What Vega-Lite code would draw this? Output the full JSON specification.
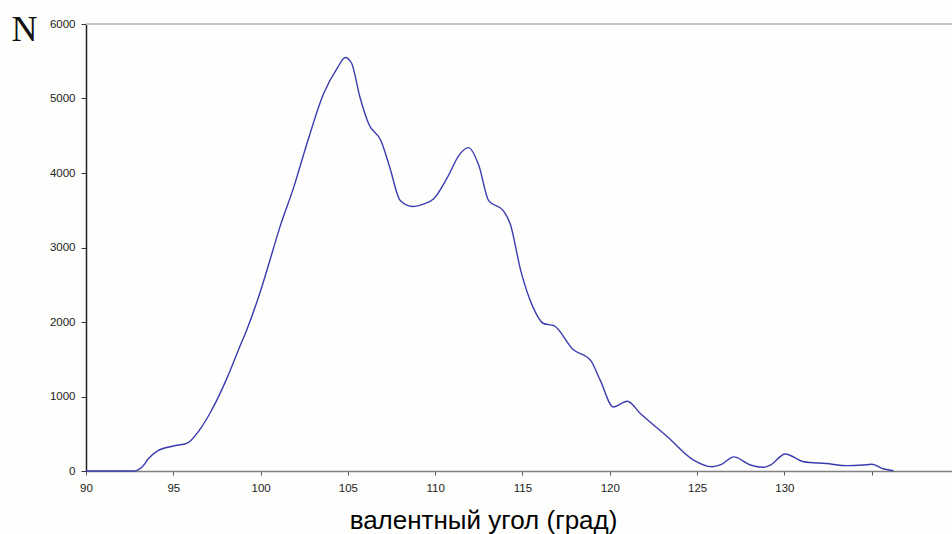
{
  "$schema": "https://vega.github.io/schema/vega-lite/v6.json",
  "width": 866,
  "height": 447,
  "autosize": {"type": "none"},
  "padding": {"left": 86, "top": 24, "right": 0, "bottom": 63},
  "background": "#fefefc",
  "config": {"view": {"stroke": null}},
  "data": {"values": [
    {"angle": 90, "n": 0},
    {"angle": 92.4, "n": 0},
    {"angle": 92.7, "n": 0},
    {"angle": 92.95, "n": 12},
    {"angle": 93.2, "n": 50},
    {"angle": 93.6, "n": 170},
    {"angle": 94.1, "n": 270},
    {"angle": 95.0, "n": 335},
    {"angle": 95.8, "n": 375},
    {"angle": 96.5, "n": 550},
    {"angle": 97.1, "n": 775},
    {"angle": 98.1, "n": 1260},
    {"angle": 98.8, "n": 1665},
    {"angle": 99.2, "n": 1890},
    {"angle": 100.0, "n": 2420},
    {"angle": 100.7, "n": 2960},
    {"angle": 101.1, "n": 3270},
    {"angle": 101.9, "n": 3810},
    {"angle": 102.7, "n": 4430},
    {"angle": 103.6, "n": 5060},
    {"angle": 104.4, "n": 5410},
    {"angle": 104.85, "n": 5550},
    {"angle": 105.2, "n": 5480},
    {"angle": 105.7, "n": 5010},
    {"angle": 106.2, "n": 4655},
    {"angle": 106.9, "n": 4430},
    {"angle": 107.4, "n": 4075},
    {"angle": 108.0, "n": 3630},
    {"angle": 108.7, "n": 3550},
    {"angle": 109.4, "n": 3590},
    {"angle": 109.9, "n": 3650},
    {"angle": 110.7, "n": 3940},
    {"angle": 111.4, "n": 4250},
    {"angle": 111.9, "n": 4340},
    {"angle": 112.5, "n": 4100},
    {"angle": 113.06, "n": 3630},
    {"angle": 113.9, "n": 3495},
    {"angle": 114.3, "n": 3315},
    {"angle": 114.9, "n": 2690},
    {"angle": 115.6, "n": 2200},
    {"angle": 116.2, "n": 1980},
    {"angle": 116.8, "n": 1950},
    {"angle": 117.9, "n": 1630},
    {"angle": 118.9, "n": 1485},
    {"angle": 119.45, "n": 1220},
    {"angle": 120.2, "n": 860},
    {"angle": 121.0, "n": 937},
    {"angle": 121.75, "n": 773},
    {"angle": 123.3, "n": 460},
    {"angle": 124.8, "n": 147},
    {"angle": 125.85, "n": 58},
    {"angle": 126.4, "n": 90},
    {"angle": 127.1, "n": 190},
    {"angle": 128.05, "n": 80},
    {"angle": 128.8, "n": 50},
    {"angle": 129.2, "n": 80},
    {"angle": 130.05, "n": 228},
    {"angle": 131.1, "n": 125},
    {"angle": 132.4, "n": 100},
    {"angle": 133.6, "n": 72},
    {"angle": 134.5, "n": 80},
    {"angle": 135.0, "n": 90},
    {"angle": 135.7, "n": 27},
    {"angle": 136.25, "n": 4}
  ]},
  "layer": [
    {
      "mark": {"type": "rule", "color": "#c4c4c4", "strokeWidth": 2},
      "encoding": {"y": {"datum": 6000, "type": "quantitative", "scale": {"domain": [0, 6000]}}}
    },
    {
      "mark": {"type": "line", "color": "#3b3bb0", "strokeWidth": 1.4, "interpolate": "monotone"},
      "encoding": {
        "x": {
          "field": "angle", "type": "quantitative",
          "scale": {"domain": [90, 139.6], "nice": false, "zero": false},
          "axis": {
            "values": [90, 95, 100, 105, 110, 115, 120, 125, 130, 135],
            "format": "d",
            "labelExpr": "datum.value == 135 ? '' : datum.label",
            "labelFlush": false, "labelOverlap": false,
            "grid": false,
            "domainColor": "#808080", "domainWidth": 1.5,
            "tickColor": "#555555", "tickSize": 4,
            "labelFont": "Liberation Sans", "labelFontSize": 11.5, "labelColor": "#222222", "labelPadding": 7,
            "title": "валентный угол (град)",
            "titleFont": "Liberation Sans", "titleFontSize": 26, "titleFontWeight": "normal", "titleColor": "#000000",
            "titleX": 397, "titleY": 57, "titleAlign": "center", "titleBaseline": "alphabetic"
          }
        },
        "y": {
          "field": "n", "type": "quantitative",
          "scale": {"domain": [0, 6000], "nice": false},
          "axis": {
            "values": [0, 1000, 2000, 3000, 4000, 5000, 6000],
            "format": "d",
            "labelFlush": false, "labelOverlap": false,
            "grid": false,
            "domainColor": "#222222", "domainWidth": 1.5,
            "tickColor": "#333333", "tickSize": 5,
            "labelFont": "Liberation Sans", "labelFontSize": 11.5, "labelColor": "#222222", "labelPadding": 6,
            "title": "N", "titleAngle": 0,
            "titleFont": "Liberation Serif", "titleFontSize": 36, "titleFontWeight": "normal", "titleColor": "#111111",
            "titleX": -75, "titleY": 16, "titleAlign": "left", "titleBaseline": "alphabetic"
          }
        }
      }
    }
  ]
}
